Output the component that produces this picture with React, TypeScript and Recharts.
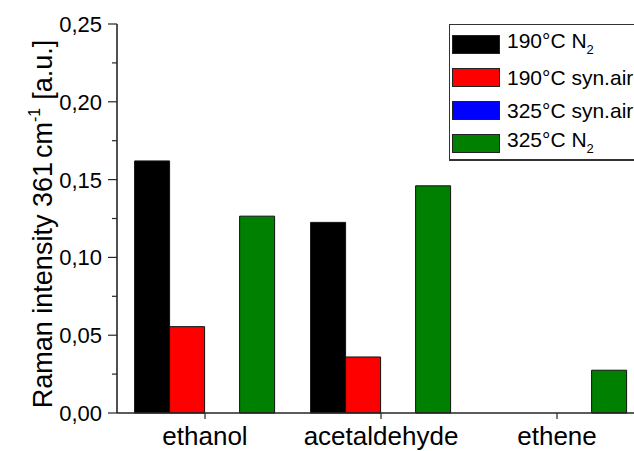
import { Bar, BarChart, Legend, XAxis, YAxis } from "recharts";

const categories = ["ethanol", "acetaldehyde", "ethene"];

const n2At190 = [0.162, 0.1225, 0];
const airAt190 = [0.0555, 0.036, 0];
const airAt325 = [0, 0, 0];
const n2At325 = [0.1265, 0.146, 0.0275];

const yTicks = [0, 0.025, 0.05, 0.075, 0.1, 0.125, 0.15, 0.175, 0.2, 0.225, 0.25];

const seriesKeys = ["n2At190", "airAt190", "airAt325", "n2At325"];
const seriesLabels = ["190°C N", "190°C syn.air", "325°C syn.air", "325°C N"];
const seriesSubs = ["2", "", "", "2"];
const seriesColors = ["#000000", "#ff0000", "#0000ff", "#008000"];

const data = categories.map((name, i) => ({
  name,
  n2At190: n2At190[i],
  airAt190: airAt190[i],
  airAt325: airAt325[i],
  n2At325: n2At325[i]
}));

const font = '"Liberation Sans", Arial, sans-serif';
const axisColor = "#262626";

function YTick(props: any): JSX.Element {
  const { x, y, payload } = props;
  const major = Math.round(payload.value * 1000) % 50 === 0;
  return (
    <g>
      <line x1={x - (major ? 9 : 5)} x2={x} y1={y} y2={y} stroke={axisColor} strokeWidth={1.2} />
      {major ? (
        <text x={x - 15} y={y} dy="0.36em" textAnchor="end" fontSize={22} fontFamily={font} fill="#000">
          {payload.value.toFixed(2).replace(".", ",")}
        </text>
      ) : null}
    </g>
  );
}

function XTick(props: any): JSX.Element {
  const { x, y, payload } = props;
  return (
    <g>
      <line x1={x} x2={x} y1={y} y2={y + 6} stroke={axisColor} strokeWidth={1.2} />
      <text x={x} y={y + 32} textAnchor="middle" fontSize={26} fontFamily={font} fill="#000">
        {payload.value}
      </text>
    </g>
  );
}

function LegendBox(): JSX.Element {
  return (
    <div
      style={{
        width: 200,
        height: 131,
        border: "1px solid #333",
        borderBottomWidth: 2,
        background: "#fff",
        fontFamily: font,
        fontSize: 21,
        color: "#000",
        paddingTop: 3,
        boxSizing: "content-box"
      }}
    >
      {seriesLabels.map((label, i) => (
        <div key={label} style={{ display: "flex", alignItems: "center", height: 33 }}>
          <span
            style={{
              display: "inline-block",
              width: 46,
              height: 17,
              marginLeft: 2,
              marginRight: 7,
              background: seriesColors[i],
              border: "1px solid #222"
            }}
          />
          <span style={{ whiteSpace: "nowrap", lineHeight: "21px" }}>
            {label}
            {seriesSubs[i] ? <sub style={{ fontSize: 13, verticalAlign: "-6px" }}>{seriesSubs[i]}</sub> : null}
          </span>
        </div>
      ))}
    </div>
  );
}

export default function App(): JSX.Element {
  return (
    <div style={{ width: 634, height: 451, overflow: "hidden", position: "relative", background: "#fff" }}>
      <style>{"body{margin:0}"}</style>
      <BarChart
        width={650}
        height={451}
        data={data}
        margin={{ top: 24, right: 5, bottom: 0, left: 0 }}
        barCategoryGap="10%"
        barGap={0}
      >
        <XAxis
          dataKey="name"
          height={38}
          tickSize={0}
          tickMargin={0}
          tick={<XTick />}
          tickLine={false}
          axisLine={{ stroke: axisColor, strokeWidth: 1.6 }}
          interval={0}
        />
        <XAxis
          xAxisId="top"
          dataKey="name"
          orientation="top"
          height={0}
          tick={false}
          tickLine={false}
          axisLine={{ stroke: axisColor, strokeWidth: 1.6 }}
        />
        <YAxis
          width={117}
          domain={[0, 0.25]}
          ticks={yTicks}
          interval={0}
          tickSize={0}
          tickMargin={0}
          tick={<YTick />}
          tickLine={false}
          axisLine={{ stroke: axisColor, strokeWidth: 1.6 }}
          label={() => (
            <text transform="translate(52,224) rotate(-90)" textAnchor="middle" fontSize={27} fontFamily={font} fill="#000">
              Raman intensity 361<tspan dx={4}>cm</tspan>
              <tspan dy={-12} fontSize={16}>-1</tspan>
              <tspan dy={12} dx={8}>[a.u.]</tspan>
            </text>
          )}
        />
        <Legend
          layout="horizontal"
          verticalAlign="middle"
          align="center"
          content={() => <LegendBox />}
          wrapperStyle={{ position: "absolute", top: 24, left: 449, width: "auto", height: "auto" }}
        />
        {seriesKeys.map((key, i) => (
          <Bar
            key={key}
            dataKey={key}
            name={seriesLabels[i] + seriesSubs[i]}
            fill={seriesColors[i]}
            stroke="#111"
            strokeWidth={1}
            isAnimationActive={false}
          />
        ))}
      </BarChart>
    </div>
  );
}
